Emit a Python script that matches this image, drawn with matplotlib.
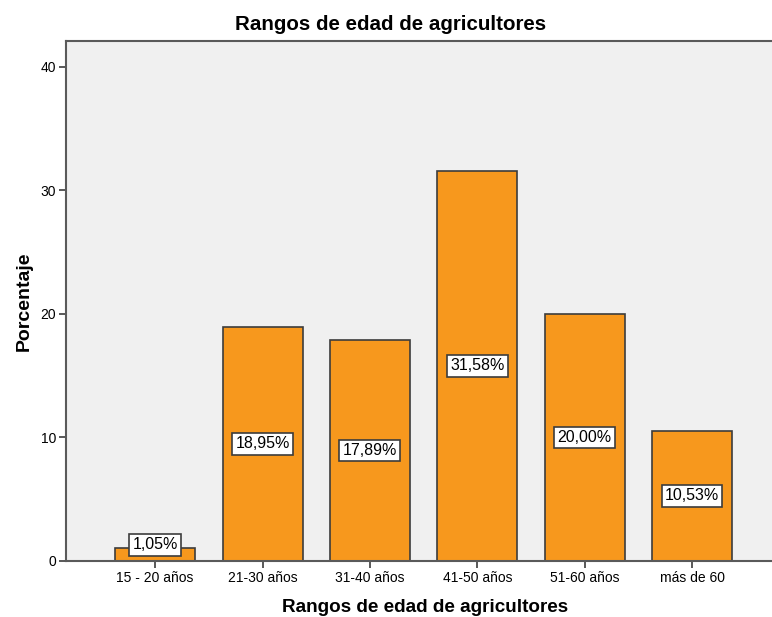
import matplotlib.pyplot as plt

plt.rcParams['font.family'] = ['Liberation Sans', 'DejaVu Sans']

categorias = ['15 - 20 años', '21-30 años', '31-40 años', '41-50 años', '51-60 años', 'más de 60']
porcentajes = [1.05, 18.95, 17.89, 31.58, 20.00, 10.53]

fig = plt.figure(figsize=(7.72, 6.17), dpi=100)
ax = fig.add_axes([0.0855, 0.0908, 0.9145, 0.8427])
ax.set_facecolor('#F0F0F0')

x = range(len(categorias))
ax.bar(x, porcentajes, width=0.745, color='#F7981D', edgecolor='#3C3C3C', linewidth=1.2, zorder=2)

# etiquetas de porcentaje dentro de cada barra
for i, v in enumerate(porcentajes):
    y = max(v / 2, 1.3)
    ax.text(i, y, f'{v:.2f}%'.replace('.', ','), ha='center', va='center', fontsize=11.5,
            bbox=dict(boxstyle='square,pad=0.2', facecolor='white', edgecolor='#3C3C3C', linewidth=1.2),
            zorder=3)

ax.set_xlim(-0.83, 5.745)
ax.set_ylim(0, 42.1)
ax.set_yticks([0, 10, 20, 30, 40])
ax.set_xticks(list(x))
ax.set_xticklabels(categorias)
ax.tick_params(axis='both', direction='out', length=5, width=1.2, color='#3C3C3C', labelsize=10, pad=2)

for side in ['left', 'bottom', 'top']:
    ax.spines[side].set_color('#5A5A5A')
    ax.spines[side].set_linewidth(1.5)
ax.spines['right'].set_visible(False)

fig.text(0.506, 0.961, 'Rangos de edad de agricultores', ha='center', va='center',
         fontsize=14.8, fontweight='bold')
ax.set_xlabel('Rangos de edad de agricultores', fontsize=13.6, fontweight='bold')
ax.xaxis.set_label_coords(0.5085, -0.074)
ax.set_ylabel('Porcentaje', fontsize=14, fontweight='bold', labelpad=5.5)

fig.savefig('out.png', dpi=100)
